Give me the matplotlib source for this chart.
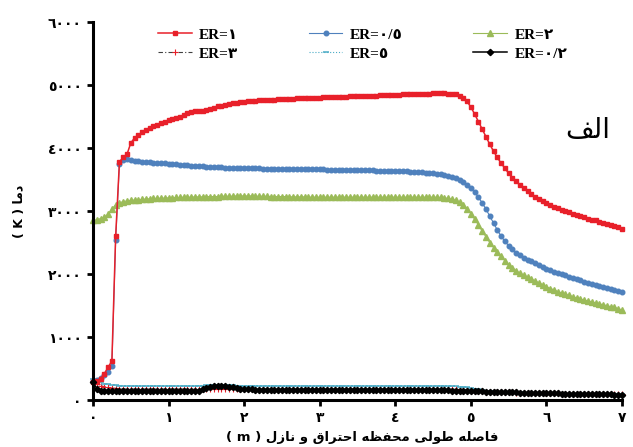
import numpy as np
import matplotlib
matplotlib.use('Agg')
import matplotlib.pyplot as plt

# Persian letters -> (isolated, final, initial, medial) presentation forms
FORMS = {
    'ا': ('\uFE8D', '\uFE8E', None, None),
    'د': ('\uFEA9', '\uFEAA', None, None),
    'ر': ('\uFEAD', '\uFEAE', None, None),
    'ز': ('\uFEAF', '\uFEB0', None, None),
    'و': ('\uFEED', '\uFEEE', None, None),
    'ت': ('\uFE95', '\uFE96', '\uFE97', '\uFE98'),
    'ح': ('\uFEA1', '\uFEA2', '\uFEA3', '\uFEA4'),
    'ص': ('\uFEB9', '\uFEBA', '\uFEBB', '\uFEBC'),
    'ط': ('\uFEC1', '\uFEC2', '\uFEC3', '\uFEC4'),
    'ظ': ('\uFEC5', '\uFEC6', '\uFEC7', '\uFEC8'),
    'ف': ('\uFED1', '\uFED2', '\uFED3', '\uFED4'),
    'ق': ('\uFED5', '\uFED6', '\uFED7', '\uFED8'),
    'ل': ('\uFEDD', '\uFEDE', '\uFEDF', '\uFEE0'),
    'م': ('\uFEE1', '\uFEE2', '\uFEE3', '\uFEE4'),
    'ن': ('\uFEE5', '\uFEE6', '\uFEE7', '\uFEE8'),
    'ه': ('\uFEE9', '\uFEEA', '\uFEEB', '\uFEEC'),
    'ی': ('\uFBFC', '\uFBFD', '\uFBFE', '\uFBFF'),
}


def shape(word):
    out = []
    for i, ch in enumerate(word):
        f = FORMS.get(ch)
        if f is None:
            out.append(ch)
            continue
        prev = FORMS.get(word[i - 1]) if i > 0 else None
        nxt = FORMS.get(word[i + 1]) if i < len(word) - 1 else None
        jp = prev is not None and prev[2] is not None
        jn = f[2] is not None and nxt is not None
        if jp and jn:
            out.append(f[3])
        elif jp:
            out.append(f[1])
        elif jn:
            out.append(f[2])
        else:
            out.append(f[0])
    return ''.join(out)


def rtl(text):
    return ' '.join(shape(w) for w in text.split(' '))[::-1]


# stations along the combustor + nozzle (m)
x = np.linspace(0, 7, 141)

t_er1 = [
    280, 300, 340, 420, 520, 620, 2600, 3780, 3850, 3900,
    4080, 4160, 4210, 4250, 4290, 4320, 4350, 4370, 4390, 4420,
    4440, 4460, 4480, 4500, 4520, 4550, 4570, 4580, 4590, 4590,
    4600, 4620, 4640, 4660, 4670, 4690, 4700, 4710, 4720, 4730,
    4735, 4740, 4745, 4750, 4755, 4760, 4765, 4770, 4770, 4775,
    4780, 4780, 4785, 4785, 4790, 4790, 4795, 4795, 4800, 4800,
    4800, 4805, 4805, 4810, 4810, 4810, 4815, 4815, 4820, 4820,
    4820, 4825, 4825, 4830, 4830, 4830, 4835, 4835, 4840, 4840,
    4840, 4845, 4850, 4850, 4855, 4855, 4860, 4860, 4865, 4865,
    4870, 4870, 4870, 4870, 4865, 4860, 4850, 4830, 4800, 4740,
    4650, 4540, 4420, 4300, 4180, 4060, 3950, 3850, 3760, 3680,
    3600, 3530, 3470, 3410, 3360, 3310, 3270, 3230, 3190, 3160,
    3130, 3100, 3070, 3050, 3020, 3000, 2980, 2960, 2940, 2920,
    2900, 2880, 2860, 2850, 2830, 2810, 2800, 2780, 2760, 2740,
    2720,
]

t_er05 = [
    300, 320, 350, 400, 450, 540, 2540, 3750, 3810, 3820,
    3810, 3800, 3790, 3785, 3780, 3775, 3770, 3765, 3760, 3755,
    3750, 3745, 3740, 3735, 3730, 3725, 3720, 3715, 3710, 3710,
    3705, 3700, 3700, 3695, 3695, 3690, 3690, 3690, 3685, 3685,
    3685, 3680, 3680, 3680, 3680, 3675, 3675, 3675, 3670, 3670,
    3670, 3670, 3670, 3665, 3665, 3665, 3665, 3660, 3660, 3660,
    3660, 3660, 3655, 3655, 3655, 3655, 3650, 3650, 3650, 3650,
    3650, 3645, 3645, 3645, 3645, 3640, 3640, 3640, 3640, 3635,
    3635, 3635, 3630, 3630, 3625, 3625, 3620, 3615, 3610, 3605,
    3600, 3590, 3580, 3570, 3560, 3540, 3520, 3490, 3460, 3420,
    3370, 3300, 3220, 3130, 3030, 2920, 2810, 2700, 2600, 2520,
    2450, 2390, 2340, 2300, 2260, 2230, 2200, 2170, 2140, 2110,
    2080, 2060, 2040, 2020, 2000, 1980, 1960, 1940, 1920, 1900,
    1880, 1860, 1840, 1830, 1810, 1790, 1780, 1760, 1740, 1730,
    1710,
]

t_er2 = [
    2850, 2860, 2880, 2900, 2950, 3030, 3100, 3130, 3150, 3160,
    3170, 3175, 3180, 3185, 3190, 3195, 3200, 3200, 3205, 3205,
    3210, 3210, 3215, 3215, 3220, 3220, 3220, 3225, 3225, 3225,
    3230, 3230, 3230, 3230, 3235, 3235, 3235, 3235, 3240, 3240,
    3240, 3240, 3240, 3235, 3235, 3235, 3235, 3230, 3230, 3230,
    3230, 3230, 3225, 3225, 3225, 3225, 3225, 3220, 3220, 3220,
    3220, 3220, 3220, 3220, 3220, 3220, 3220, 3220, 3220, 3220,
    3220, 3220, 3220, 3220, 3220, 3220, 3220, 3220, 3220, 3220,
    3220, 3220, 3220, 3220, 3220, 3220, 3220, 3220, 3220, 3220,
    3220, 3220, 3215, 3210, 3200, 3185, 3170, 3140, 3100, 3040,
    2960, 2870, 2780, 2680, 2590, 2500, 2420, 2350, 2280, 2210,
    2150, 2100, 2050, 2010, 1980, 1950, 1920, 1890, 1860, 1830,
    1800, 1770, 1750, 1720, 1700, 1680, 1660, 1640, 1620, 1600,
    1590, 1570, 1560, 1540, 1530, 1510, 1500, 1480, 1470, 1450,
    1430,
]

t_er3 = [
    300, 260, 230, 210, 200, 190, 185, 180, 180, 175,
    175, 175, 175, 175, 175, 175, 175, 175, 175, 175,
    175, 175, 175, 175, 175, 175, 170, 170, 170, 170,
    170, 170, 170, 170, 170, 170, 170, 170, 170, 170,
    170, 170, 170, 170, 170, 170, 170, 170, 170, 170,
    170, 170, 170, 170, 170, 170, 170, 170, 170, 170,
    170, 170, 170, 170, 170, 170, 170, 170, 170, 170,
    170, 170, 170, 170, 170, 170, 170, 170, 170, 170,
    170, 170, 170, 170, 170, 170, 170, 170, 170, 170,
    170, 170, 170, 170, 170, 170, 170, 165, 165, 160,
    155, 150, 145, 140, 135, 130, 130, 125, 125, 120,
    120, 120, 115, 115, 115, 110, 110, 110, 110, 105,
    105, 105, 105, 105, 100, 100, 100, 100, 100, 100,
    100, 100, 95, 95, 95, 95, 95, 95, 90, 90,
    90,
]

t_er5 = [
    330, 300, 280, 260, 250, 240, 235, 230, 230, 225,
    225, 225, 225, 225, 225, 225, 225, 225, 225, 225,
    225, 225, 225, 225, 225, 225, 225, 225, 230, 230,
    235, 235, 240, 240, 240, 240, 235, 235, 230, 230,
    225, 225, 225, 225, 225, 225, 225, 225, 225, 225,
    225, 225, 225, 225, 225, 225, 225, 225, 225, 225,
    225, 225, 225, 225, 225, 225, 225, 225, 225, 225,
    225, 225, 225, 225, 225, 225, 225, 225, 225, 225,
    225, 225, 225, 225, 225, 225, 225, 225, 225, 225,
    225, 225, 225, 225, 220, 220, 215, 210, 205, 200,
    190, 180, 170, 160, 150, 145, 140, 135, 130, 125,
    125, 120, 120, 120, 115, 115, 115, 110, 110, 110,
    110, 105, 105, 105, 105, 100, 100, 100, 100, 100,
    100, 100, 95, 95, 95, 95, 95, 95, 90, 90,
    90,
]

t_er02 = [
    290, 180, 145, 140, 140, 140, 140, 140, 140, 140,
    140, 140, 140, 140, 140, 140, 140, 140, 140, 140,
    140, 140, 140, 140, 140, 140, 140, 145, 150, 170,
    190, 210, 220, 225, 225, 220, 210, 200, 190, 180,
    175, 170, 170, 165, 165, 165, 165, 160, 160, 160,
    160, 160, 160, 160, 160, 160, 160, 160, 160, 160,
    160, 160, 160, 160, 160, 160, 160, 160, 160, 160,
    160, 160, 160, 160, 160, 160, 160, 160, 160, 160,
    160, 160, 160, 160, 160, 160, 160, 160, 160, 160,
    155, 155, 155, 155, 155, 150, 150, 150, 150, 150,
    145, 145, 140, 140, 135, 135, 130, 130, 125, 125,
    120, 120, 120, 115, 115, 115, 110, 110, 110, 110,
    105, 105, 105, 105, 100, 100, 100, 100, 100, 95,
    95, 95, 95, 90, 90, 90, 90, 90, 85, 85,
    85,
]

yticks = [0, 1000, 2000, 3000, 4000, 5000, 6000]
ytick_labels = ['٠', '١٠٠٠', '٢٠٠٠', '٣٠٠٠', '٤٠٠٠', '٥٠٠٠', '٦٠٠٠']
xticks = [0, 1, 2, 3, 4, 5, 6, 7]
xtick_labels = ['٠', '١', '٢', '٣', '٤', '٥', '٦', '٧']

RED = '#E8202A'
BLUE = '#4F81BD'
GREEN = '#9BBB59'
AQUA = '#4BACC6'
GREY = '#404040'

fig = plt.figure(figsize=(6.33, 4.47), dpi=100)
ax = fig.add_axes([0.1469, 0.1051, 0.8357, 0.8456])

# low-temperature cases first, hot cases over them
l3, = ax.plot(x, t_er3, color=GREY, lw=0.8, ls=(0, (4, 2, 1, 2)),
              marker='+', ms=4.5, mec=RED, mew=0.8, clip_on=False)
l5, = ax.plot(x, t_er5, color=AQUA, lw=0.8, ls=':',
              marker='_', ms=4.5, mec=AQUA, mew=1.1, clip_on=False)
l2, = ax.plot(x, t_er2, color=GREEN, lw=0.8, marker='^', ms=4,
              mec=GREEN, mfc=GREEN, clip_on=False)
l05, = ax.plot(x, t_er05, color=BLUE, lw=0.8, marker='o', ms=3.3,
               mec=BLUE, mfc=BLUE, clip_on=False)
l1, = ax.plot(x, t_er1, color=RED, lw=1.1, marker='s', ms=3.1,
              mec=RED, mfc=RED, clip_on=False)
l02, = ax.plot(x, t_er02, color='black', lw=1.1, marker='D', ms=3.2,
               mec='black', mfc='black', clip_on=False)

ax.set_xlim(0, 7)
ax.set_ylim(0, 6000)
ax.set_xticks(xticks)
ax.set_xticklabels(xtick_labels, fontsize=10, fontweight='bold')
ax.set_yticks(yticks)
ax.set_yticklabels(ytick_labels, fontsize=10, fontweight='bold')
ax.tick_params(axis='both', direction='out', length=4, width=2, pad=4)

for side in ['top', 'right']:
    ax.spines[side].set_visible(False)
for side in ['left', 'bottom']:
    ax.spines[side].set_linewidth(2.2)

handles = [l1, l3, l05, l5, l2, l02]
labels = ['ER=١', 'ER=٣', 'ER=٠/٥', 'ER=٥', 'ER=٢', 'ER=٠/٢']
ax.legend(handles, labels, ncol=3, loc='upper left',
          bbox_to_anchor=(158 / 633, 1 - 28 / 447),
          bbox_transform=fig.transFigure, frameon=False,
          handlelength=2.2, handletextpad=0.5, columnspacing=4.6,
          labelspacing=0.35, borderpad=0, borderaxespad=0,
          prop={'family': ['Liberation Serif', 'DejaVu Sans'],
                'weight': 'bold', 'size': 11})

# axis titles
fig.text(20 / 633, 1 - 211 / 447, '( K ) ' + rtl('دما'), rotation=90,
         ha='center', va='center', fontsize=9, fontweight='bold')
fig.text(362 / 633, 1 - 437 / 447,
         '( m ) ' + rtl('فاصله طولی محفظه احتراق و نازل'),
         ha='center', va='center', fontsize=9.5, fontweight='bold')
fig.text(588 / 633, 1 - 130 / 447, rtl('الف'), ha='center', va='center',
         fontsize=20)

plt.savefig('out.png', dpi=100, facecolor='white')
